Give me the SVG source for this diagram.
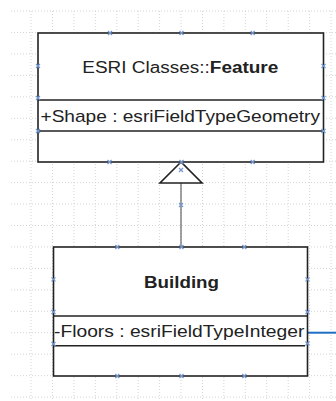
<svg xmlns="http://www.w3.org/2000/svg" xmlns:xlink="http://www.w3.org/1999/xlink" width="336" height="401" viewBox="0 0 336 401">
<style>
.grid{stroke:#d4d4d4;stroke-width:1;stroke-dasharray:1 2;fill:none}
.box{fill:#fff;stroke:#222;stroke-width:1.6}
.sep{stroke:#222;stroke-width:1.4}
.t{font-family:"Liberation Sans",Arial,sans-serif;fill:#222}
.b{font-weight:bold}
.mk{stroke:#7397cf;stroke-width:1.2;fill:none}
.conn{stroke:#555;stroke-width:1.1;fill:none}
</style>
<defs>
<path id="x" class="mk" d="M-2,-2L2,2M-2,2L2,-2"/>
</defs>
<rect width="336" height="401" fill="#fff"/>
<g id="grid" class="grid">
<path d="M11,11H336M11,32.45H336M11,53.9H336M11,75.35H336M11,96.8H336M11,118.25H336M11,139.7H336M11,161.15H336M11,182.6H336M11,204.05H336M11,225.5H336M11,246.95H336M11,268.4H336M11,289.85H336M11,311.3H336M11,332.75H336M11,354.2H336M11,375.65H336M11,397.1H336"/>
<path d="M31,11V401M52.5,11V401M73.9,11V401M95.3,11V401M116.8,11V401M138.2,11V401M159.6,11V401M181,11V401M202.5,11V401M223.9,11V401M245.3,11V401M266.7,11V401M288.2,11V401M309.6,11V401M331,11V401"/>
</g>
<g id="connectors">
<line class="conn" x1="181" y1="183" x2="181" y2="247"/>
<polygon points="181,162 160,183 202,183" fill="#fff" stroke="#222" stroke-width="1.6" stroke-linejoin="miter"/>
<line x1="307.5" y1="332.7" x2="336" y2="332.7" stroke="#1f6fc4" stroke-width="2"/>
<use xlink:href="#x" x="181" y="170"/>
<use xlink:href="#x" x="181" y="205"/>
</g>
<g id="feature">
<rect class="box" x="38" y="33" width="285.5" height="129"/>
<line class="sep" x1="38" y1="100" x2="323.5" y2="100"/>
<line class="sep" x1="38" y1="131" x2="323.5" y2="131"/>
<text class="t" x="82.3" y="73.3" font-size="16" textLength="127.5" lengthAdjust="spacingAndGlyphs">ESRI Classes::</text>
<text class="t b" x="209.8" y="73.3" font-size="16" textLength="68.5" lengthAdjust="spacingAndGlyphs">Feature</text>
<text class="t" x="40.5" y="121.7" font-size="17" textLength="279.5" lengthAdjust="spacingAndGlyphs">+Shape : esriFieldTypeGeometry</text>
<use xlink:href="#x" x="110" y="33"/><use xlink:href="#x" x="181.5" y="33"/><use xlink:href="#x" x="252.7" y="33"/>
<use xlink:href="#x" x="38" y="66"/><use xlink:href="#x" x="323.5" y="66"/>
<use xlink:href="#x" x="38" y="98"/><use xlink:href="#x" x="323.5" y="98"/>
<use xlink:href="#x" x="38" y="131"/><use xlink:href="#x" x="323.5" y="131"/>
<use xlink:href="#x" x="109.5" y="162"/><use xlink:href="#x" x="181.5" y="162"/><use xlink:href="#x" x="252.7" y="162"/>
</g>
<g id="building">
<rect class="box" x="53.5" y="247" width="254" height="129"/>
<line class="sep" x1="53.5" y1="316" x2="307.5" y2="316"/>
<line class="sep" x1="53.5" y1="345.7" x2="305" y2="345.7" stroke="#444" stroke-width="1.2"/>
<text class="t b" x="144" y="287.7" font-size="16" textLength="75" lengthAdjust="spacingAndGlyphs">Building</text>
<text class="t" x="54" y="336.7" font-size="17" textLength="250.3" lengthAdjust="spacingAndGlyphs">-Floors : esriFieldTypeInteger</text>
<use xlink:href="#x" x="117.3" y="247"/><use xlink:href="#x" x="181.5" y="247"/><use xlink:href="#x" x="244.3" y="247"/>
<use xlink:href="#x" x="53.5" y="279.3"/><use xlink:href="#x" x="307.5" y="279.3"/>
<use xlink:href="#x" x="53.5" y="312"/><use xlink:href="#x" x="307.5" y="312"/>
<use xlink:href="#x" x="53.5" y="344"/><use xlink:href="#x" x="307.5" y="343.5"/>
<use xlink:href="#x" x="117.3" y="376"/><use xlink:href="#x" x="181.5" y="376"/><use xlink:href="#x" x="244.3" y="376"/>
</g>
</svg>
